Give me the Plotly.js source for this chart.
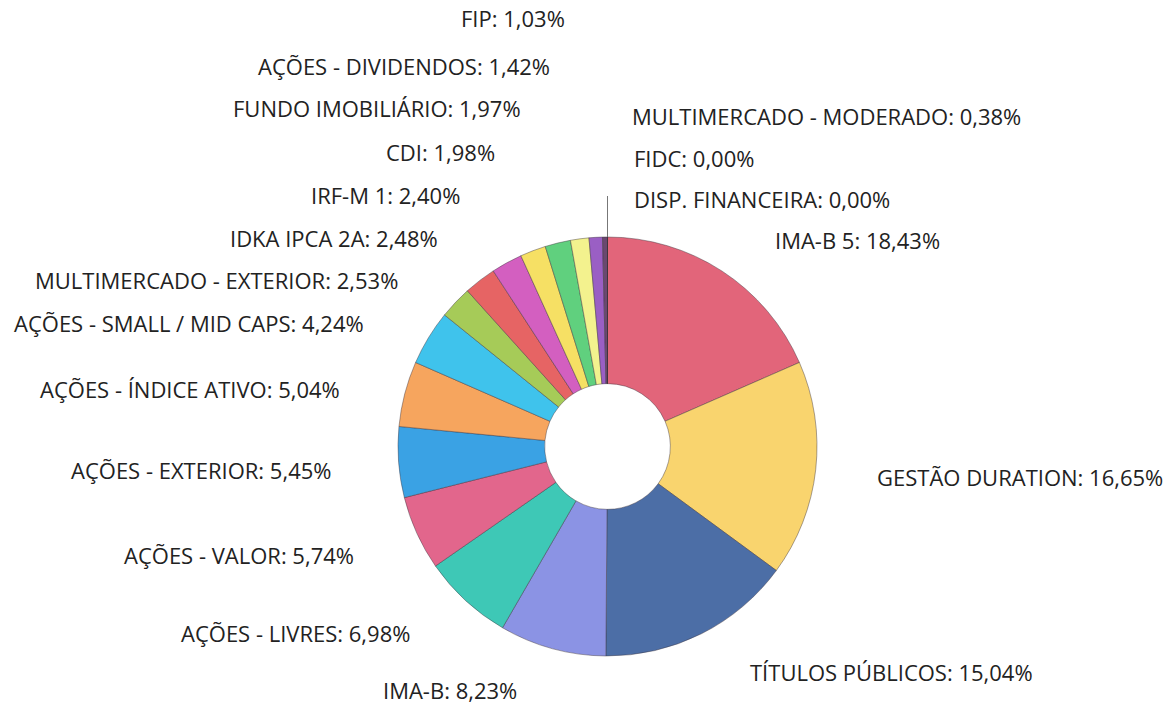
<!DOCTYPE html>
<html>
<head>
<meta charset="utf-8">
<script src="https://cdn.plot.ly/plotly-3.0.1.min.js"></script>
<style>html,body{margin:0;padding:0;background:#fff;}#chart{width:1169px;height:708px;}</style>
</head>
<body>
<div id="chart"></div>
<script>
// Data (percent of portfolio), in slice order clockwise from 12 o'clock
const categories = [
  "IMA-B 5", "GESTÃO DURATION", "TÍTULOS PÚBLICOS", "IMA-B",
  "AÇÕES - LIVRES", "AÇÕES - VALOR", "AÇÕES - EXTERIOR", "AÇÕES - ÍNDICE ATIVO",
  "AÇÕES - SMALL / MID CAPS", "MULTIMERCADO - EXTERIOR", "IDKA IPCA 2A", "IRF-M 1",
  "CDI", "FUNDO IMOBILIÁRIO", "AÇÕES - DIVIDENDOS", "FIP",
  "MULTIMERCADO - MODERADO", "FIDC", "DISP. FINANCEIRA"
];
const values = [
  18.43, 16.65, 15.04, 8.23,
  6.98, 5.74, 5.45, 5.04,
  4.24, 2.53, 2.48, 2.40,
  1.98, 1.97, 1.42, 1.03,
  0.38, 0.00, 0.00
];
const colors = [
  "#e2657a", "#f9d46e", "#4c6ea6", "#8b93e4",
  "#3ec8b6", "#e2668c", "#3aa2e4", "#f6a55e",
  "#3fc3ec", "#a6cb58", "#e66464", "#d35fc0",
  "#f6e064", "#60d07e", "#f3f28e", "#9a5fc4",
  "#6a4870", "#555555", "#555555"
];

// Label anchor placement (page pixels): [x, y, xanchor]
const labelPos = [
  [773, 240, "left"], [1165, 477, "right"], [748, 672, "left"], [450, 690, "center"],
  [412, 633, "right"], [356, 555, "right"], [333, 470, "right"], [342, 389, "right"],
  [366, 323, "right"], [400, 280, "right"], [440, 238, "right"], [462, 195, "right"],
  [497, 152, "right"], [523, 108, "right"], [552, 66, "right"], [567, 18, "right"],
  [630, 116, "left"], [632, 158, "left"], [632, 199, "left"]
];

const W = 1169, H = 708;
const fmt = v => v.toFixed(2).replace(".", ",") + "%";

const annotations = categories.map((c, i) => ({
  xref: "paper", yref: "paper",
  x: labelPos[i][0] / W, y: 1 - labelPos[i][1] / H,
  xanchor: labelPos[i][2], yanchor: "middle",
  text: c + ": " + fmt(values[i]),
  showarrow: false,
  font: {family: "Open Sans, sans-serif", size: 22, color: "#222222"}
}));

const cx = 607.5, cy = 446.5, R = 209.5;

const trace = {
  type: "pie",
  labels: categories,
  values: values,
  sort: false,
  direction: "clockwise",
  rotation: 0,
  hole: 0.3,
  textinfo: "none",
  hoverinfo: "label+percent",
  marker: {colors: colors, line: {color: "rgba(60,50,60,0.55)", width: 0.8}},
  domain: {x: [(cx - R) / W, (cx + R) / W], y: [1 - (cy + R) / H, 1 - (cy - R) / H]},
  showlegend: false
};

const layout = {
  width: W, height: H,
  margin: {l: 0, r: 0, t: 0, b: 0},
  paper_bgcolor: "#ffffff",
  showlegend: false,
  annotations: annotations,
  shapes: [{
    type: "line", xref: "paper", yref: "paper",
    x0: cx / W, x1: cx / W, y0: 1 - 196 / H, y1: 1 - (cy - R) / H,
    line: {color: "#777", width: 1}
  }]
};

Plotly.newPlot("chart", [trace], layout, {displayModeBar: false, staticPlot: true});
</script>
</body>
</html>
